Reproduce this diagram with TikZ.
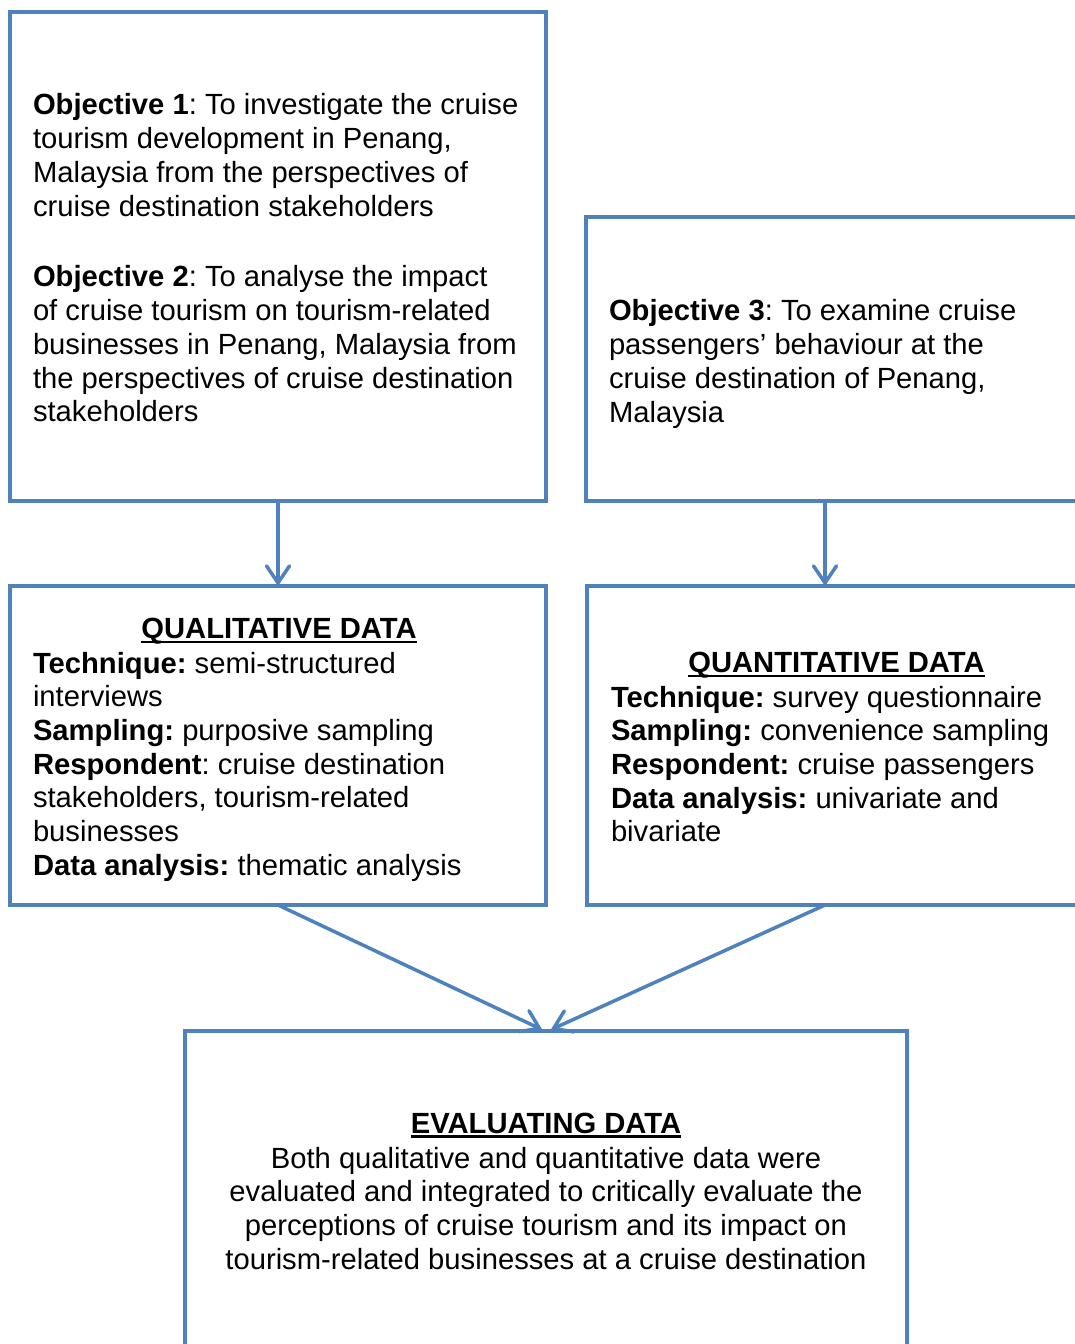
\documentclass[tikz,border=0pt]{standalone}
\usepackage{fontspec}
\setmainfont{Liberation Sans}
\usetikzlibrary{arrows.meta}
\definecolor{frameblue}{HTML}{4F81BD}
\frenchspacing
% bold heading with a heavy underline
\newcommand{\headline}[1]{\setbox0\hbox{\textbf{#1}}\rlap{\rule[-4.5pt]{\wd0}{2.8pt}}\box0}
\begin{document}
\begin{tikzpicture}[x=1pt,y=-1pt,
  frame/.style={draw=frameblue,line width=4.5pt,inner sep=0pt,outer sep=0pt},
  txt/.style={inner sep=0pt,outer sep=0pt,font=\fontsize{29.2}{33.7}\selectfont\frenchspacing},
  flow/.style={draw=frameblue,line width=3.5pt,
    -{Straight Barb[length=17pt,width=23pt,line cap=round]}}]
\useasboundingbox (0,0) rectangle (1075,1344);
\clip (0,0) rectangle (1075,1344);
\fill[white] (0,0) rectangle (1075,1344);

% boxes
\node[frame,minimum width=536pt,minimum height=489pt] (obj12) at (278,256.5) {};
\node[frame,minimum width=504pt,minimum height=284pt] (obj3) at (838,359) {};
\node[frame,minimum width=536pt,minimum height=319pt] (qual) at (278,745.5) {};
\node[frame,minimum width=503pt,minimum height=319pt] (quant) at (838.5,745.5) {};
\node[frame,minimum width=722pt,minimum height=340pt] (eval) at (546,1201) {};

% objectives
\node[txt,align=left,anchor=north west] (o1) at (33,91.4) {\strut\textbf{Objective 1}: To investigate the cruise\\
tourism development in Penang,\\
Malaysia from the perspectives of\\
cruise destination stakeholders};
\node[txt,align=left,anchor=north west] (o2) at (33,263.4) {\strut\textbf{Objective 2}: To analyse the impact\\
of cruise tourism on tourism-related\\
businesses in Penang, Malaysia from\\
the perspectives of cruise destination\\
stakeholders};
\node[txt,align=left,anchor=north west] (o3) at (609,297.4) {\strut\textbf{Objective 3}: To examine cruise\\
passengers’ behaviour at the\\
cruise destination of Penang,\\
Malaysia};

% qualitative strand
\node[txt,anchor=north] (qualhead) at (279,615.4) {\strut\headline{QUALITATIVE DATA}};
\node[txt,align=left,anchor=north west] (qualbody) at (33,649.4) {\strut\textbf{Technique:} semi-structured\\
interviews\\
\textbf{Sampling:} purposive sampling\\
\textbf{Respondent}: cruise destination\\
stakeholders, tourism-related\\
businesses\\
\textbf{Data analysis:} thematic analysis};

% quantitative strand
\node[txt,anchor=north] (quanthead) at (836.5,649.4) {\strut\headline{QUANTITATIVE DATA}};
\node[txt,align=left,anchor=north west] (quantbody) at (611,683.4) {\strut\textbf{Technique:} survey questionnaire\\
\textbf{Sampling:} convenience sampling\\
\textbf{Respondent:} cruise passengers\\
\textbf{Data analysis:} univariate and\\
bivariate};

% evaluation
\node[txt,anchor=north] (evalhead) at (546,1109.4) {\strut\headline{EVALUATING DATA}};
\node[txt,align=center,anchor=north] (evalbody) at (546,1144.4) {\strut Both qualitative and quantitative data were\\
evaluated and integrated to critically evaluate the\\
perceptions of cruise tourism and its impact on\\
tourism-related businesses at a cruise destination};

% connectors
\coordinate (rightlane) at (825,0);
\draw[flow] (obj12.south) -- (qual.north);
\draw[flow] (rightlane |- obj3.south) -- (rightlane |- quant.north);
\draw[flow,shorten >=3pt] (qual.south) -- ([xshift=-1pt]eval.north);
\draw[flow,shorten >=3pt] (rightlane |- quant.south) -- ([xshift=2pt]eval.north);
\end{tikzpicture}
\end{document}
